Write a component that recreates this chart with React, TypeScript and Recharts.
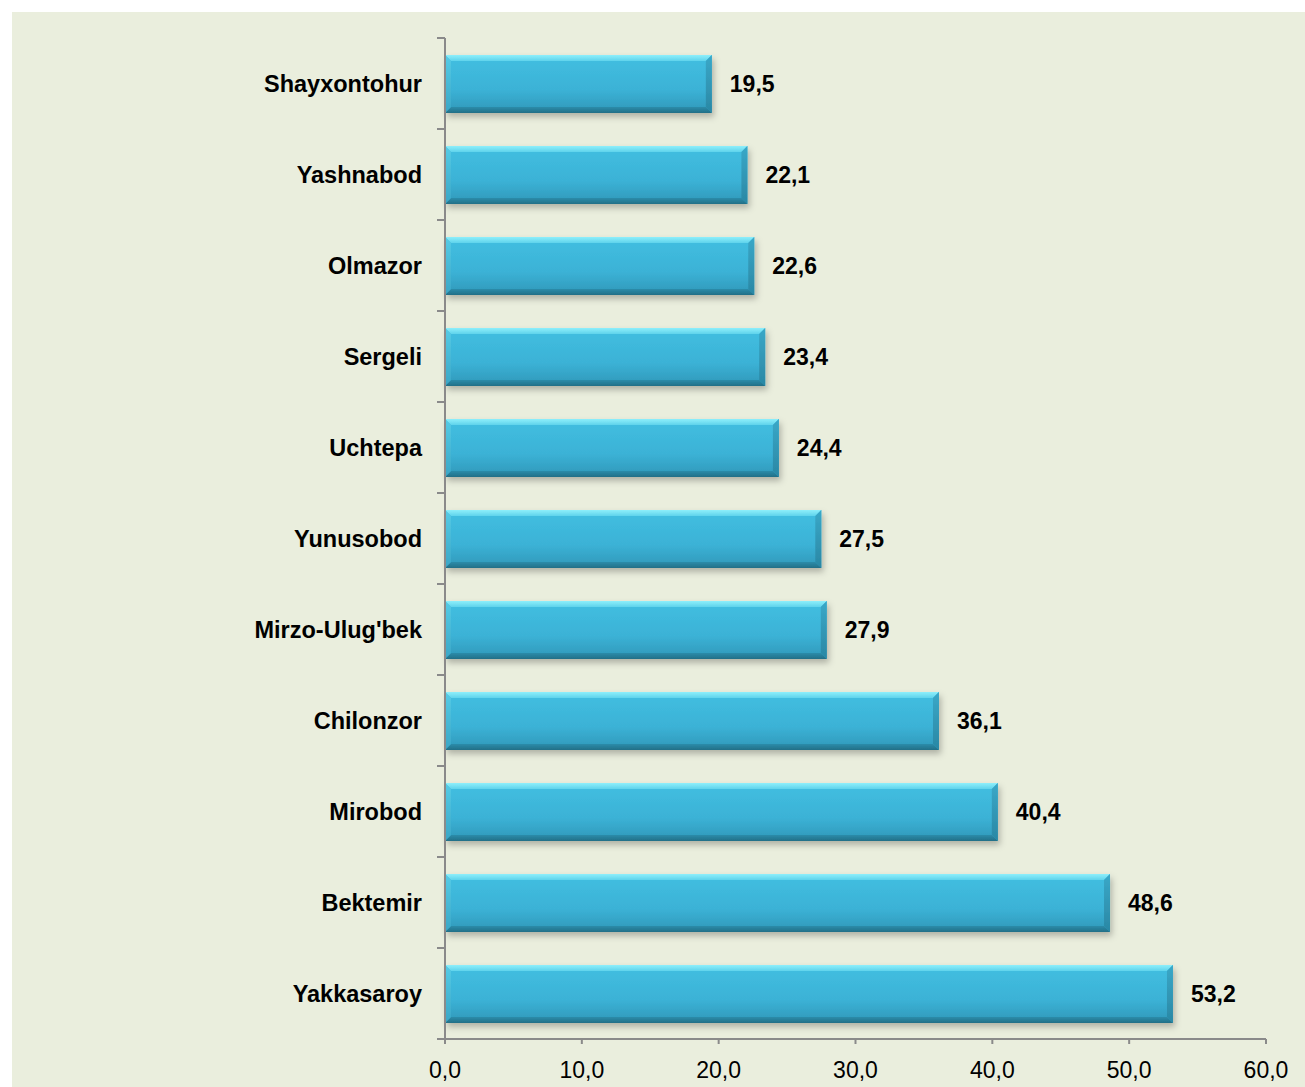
import React from 'react';
import { BarChart, Bar, XAxis, YAxis, LabelList } from 'recharts';

const districts = [
  'Shayxontohur',
  'Yashnabod',
  'Olmazor',
  'Sergeli',
  'Uchtepa',
  'Yunusobod',
  "Mirzo-Ulug'bek",
  'Chilonzor',
  'Mirobod',
  'Bektemir',
  'Yakkasaroy',
];
const values = [19.5, 22.1, 22.6, 23.4, 24.4, 27.5, 27.9, 36.1, 40.4, 48.6, 53.2];
const xTicks = [0, 10, 20, 30, 40, 50, 60];

const data = districts.map((name, i) => ({ name, value: values[i] }));

const W = 1293;
const H = 1075;
const M_TOP = 26;
const M_RIGHT = 39;
const X_AXIS_H = 48;
const Y_AXIS_W = 433;
const PLOT_H = H - M_TOP - X_AXIS_H;
const BAND = PLOT_H / districts.length;
const FONT = '"Liberation Sans", Arial, sans-serif';
const AXIS_COLOR = '#8A8A8A';

const fmt = (v: number) => v.toFixed(1).replace('.', ',');

const BevelBar = (props: any) => {
  const { x, y, width, height } = props;
  if (!width || width <= 0) return null;
  const b = 6;
  const x2 = x + width;
  const y2 = y + height;
  return (
    <g filter="url(#barShadow)">
      <rect x={x} y={y} width={width} height={height} fill="url(#bodyGrad)" />
      <polygon
        points={`${x},${y} ${x2},${y} ${x2 - b},${y + b} ${x + b},${y + b}`}
        fill="url(#topGrad)"
      />
      <polygon
        points={`${x},${y2} ${x2},${y2} ${x2 - b},${y2 - b} ${x + b},${y2 - b}`}
        fill="url(#bottomGrad)"
      />
      <polygon
        points={`${x2},${y} ${x2},${y2} ${x2 - b},${y2 - b} ${x2 - b},${y + b}`}
        fill="url(#rightGrad)"
      />
      <polygon
        points={`${x},${y} ${x},${y2} ${x + b},${y2 - b} ${x + b},${y + b}`}
        fill="url(#leftGrad)"
      />
    </g>
  );
};

const YTick = (props: any) => {
  const { x, y, payload, index } = props;
  const axisX = x;
  return (
    <g>
      <line x1={axisX - 8} x2={axisX} y1={y - BAND / 2} y2={y - BAND / 2} stroke={AXIS_COLOR} strokeWidth={2} />
      {index === districts.length - 1 && (
        <line x1={axisX - 8} x2={axisX} y1={y + BAND / 2} y2={y + BAND / 2} stroke={AXIS_COLOR} strokeWidth={2} />
      )}
      <text
        x={axisX - 23}
        y={y}
        dy="0.36em"
        textAnchor="end"
        fontFamily={FONT}
        fontWeight="bold"
        fontSize={23.5}
        fill="#000"
      >
        {payload.value}
      </text>
    </g>
  );
};

const XTick = (props: any) => {
  const { x, y, payload } = props;
  return (
    <text x={x} y={y + 34} textAnchor="middle" fontFamily={FONT} fontSize={23} fill="#000">
      {fmt(payload.value)}
    </text>
  );
};

export default function App() {
  return (
    <div
      style={{
        position: 'absolute',
        left: 12,
        top: 12,
        width: W,
        height: H,
        background: '#EAEEDD',
        overflow: 'hidden',
      }}
    >
      <BarChart
        width={W}
        height={H}
        data={data}
        layout="vertical"
        margin={{ top: M_TOP, right: M_RIGHT, bottom: 0, left: 0 }}
      >
        <defs>
          <linearGradient id="bodyGrad" x1="0" y1="0" x2="0" y2="1">
            <stop offset="0" stopColor="#42BFE1" />
            <stop offset="0.6" stopColor="#3BB2D6" />
            <stop offset="1" stopColor="#3097B8" />
          </linearGradient>
          <linearGradient id="topGrad" x1="0" y1="0" x2="0" y2="1">
            <stop offset="0" stopColor="#8EEFFB" />
            <stop offset="1" stopColor="#5FD3EC" />
          </linearGradient>
          <linearGradient id="bottomGrad" x1="0" y1="0" x2="0" y2="1">
            <stop offset="0" stopColor="#2C8CAA" />
            <stop offset="1" stopColor="#226F87" />
          </linearGradient>
          <linearGradient id="rightGrad" x1="0" y1="0" x2="0" y2="1">
            <stop offset="0" stopColor="#3AA8C8" />
            <stop offset="1" stopColor="#2A87A4" />
          </linearGradient>
          <linearGradient id="leftGrad" x1="0" y1="0" x2="0" y2="1">
            <stop offset="0" stopColor="#55CBE6" />
            <stop offset="1" stopColor="#3AA6C6" />
          </linearGradient>
          <filter id="barShadow" x="-5%" y="-20%" width="115%" height="150%">
            <feDropShadow dx="2" dy="4" stdDeviation="3" floodColor="#000" floodOpacity="0.25" />
          </filter>
        </defs>
        <XAxis
          type="number"
          domain={[0, 60]}
          ticks={xTicks}
          interval={0}
          height={X_AXIS_H}
          tickSize={5}
          tickMargin={0}
          axisLine={{ stroke: AXIS_COLOR, strokeWidth: 2 }}
          tickLine={{ stroke: AXIS_COLOR, strokeWidth: 2 }}
          tick={<XTick />}
        />
        <YAxis
          type="category"
          dataKey="name"
          width={Y_AXIS_W}
          tickSize={0}
          tickMargin={0}
          interval={0}
          axisLine={{ stroke: AXIS_COLOR, strokeWidth: 2 }}
          tickLine={false}
          tick={<YTick />}
        />
        <Bar dataKey="value" barSize={58} shape={<BevelBar />} isAnimationActive={false}>
          <LabelList
            dataKey="value"
            position="right"
            offset={18}
            formatter={(v: any) => fmt(Number(v))}
            style={{ fontFamily: FONT, fontWeight: 'bold', fontSize: 23, fill: '#000' }}
          />
        </Bar>
      </BarChart>
    </div>
  );
}
